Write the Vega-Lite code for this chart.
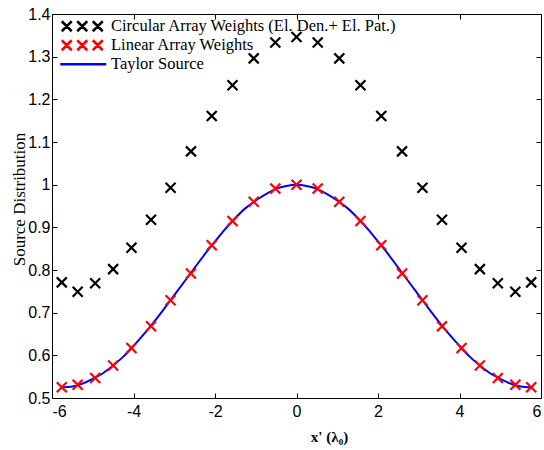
{
  "$schema": "https://vega.github.io/schema/vega-lite/v6.json",
  "width": 489,
  "height": 384,
  "autosize": "none",
  "padding": {"left": 52, "top": 14, "right": 3, "bottom": 52},
  "background": "white",
  "config": {
    "view": {"stroke": "black", "strokeWidth": 1},
    "axis": {
      "domain": false,
      "grid": false,
      "tickColor": "black",
      "tickSize": -5,
      "tickWidth": 1,
      "labelFont": "Liberation Sans",
      "labelFontSize": 16,
      "labelColor": "black",
      "titleFont": "Liberation Serif",
      "titleColor": "black"
    }
  },
  "datasets": {
    "pts": [
      {"series": "Circular Array Weights (El. Den.+ El. Pat.)", "x": -5.76, "y": 0.771},
      {"series": "Circular Array Weights (El. Den.+ El. Pat.)", "x": -5.37, "y": 0.749},
      {"series": "Circular Array Weights (El. Den.+ El. Pat.)", "x": -4.94, "y": 0.769},
      {"series": "Circular Array Weights (El. Den.+ El. Pat.)", "x": -4.5, "y": 0.802},
      {"series": "Circular Array Weights (El. Den.+ El. Pat.)", "x": -4.05, "y": 0.852},
      {"series": "Circular Array Weights (El. Den.+ El. Pat.)", "x": -3.57, "y": 0.918},
      {"series": "Circular Array Weights (El. Den.+ El. Pat.)", "x": -3.09, "y": 0.993},
      {"series": "Circular Array Weights (El. Den.+ El. Pat.)", "x": -2.59, "y": 1.078},
      {"series": "Circular Array Weights (El. Den.+ El. Pat.)", "x": -2.08, "y": 1.161},
      {"series": "Circular Array Weights (El. Den.+ El. Pat.)", "x": -1.57, "y": 1.233},
      {"series": "Circular Array Weights (El. Den.+ El. Pat.)", "x": -1.05, "y": 1.296},
      {"series": "Circular Array Weights (El. Den.+ El. Pat.)", "x": -0.52, "y": 1.333},
      {"series": "Circular Array Weights (El. Den.+ El. Pat.)", "x": 0, "y": 1.346},
      {"series": "Circular Array Weights (El. Den.+ El. Pat.)", "x": 0.52, "y": 1.333},
      {"series": "Circular Array Weights (El. Den.+ El. Pat.)", "x": 1.05, "y": 1.296},
      {"series": "Circular Array Weights (El. Den.+ El. Pat.)", "x": 1.57, "y": 1.233},
      {"series": "Circular Array Weights (El. Den.+ El. Pat.)", "x": 2.08, "y": 1.161},
      {"series": "Circular Array Weights (El. Den.+ El. Pat.)", "x": 2.59, "y": 1.078},
      {"series": "Circular Array Weights (El. Den.+ El. Pat.)", "x": 3.09, "y": 0.993},
      {"series": "Circular Array Weights (El. Den.+ El. Pat.)", "x": 3.57, "y": 0.918},
      {"series": "Circular Array Weights (El. Den.+ El. Pat.)", "x": 4.05, "y": 0.852},
      {"series": "Circular Array Weights (El. Den.+ El. Pat.)", "x": 4.5, "y": 0.802},
      {"series": "Circular Array Weights (El. Den.+ El. Pat.)", "x": 4.94, "y": 0.769},
      {"series": "Circular Array Weights (El. Den.+ El. Pat.)", "x": 5.37, "y": 0.749},
      {"series": "Circular Array Weights (El. Den.+ El. Pat.)", "x": 5.76, "y": 0.771},
      {"series": "Linear Array Weights", "x": -5.76, "y": 0.525},
      {"series": "Linear Array Weights", "x": -5.37, "y": 0.531},
      {"series": "Linear Array Weights", "x": -4.94, "y": 0.547},
      {"series": "Linear Array Weights", "x": -4.5, "y": 0.576},
      {"series": "Linear Array Weights", "x": -4.05, "y": 0.617},
      {"series": "Linear Array Weights", "x": -3.57, "y": 0.668},
      {"series": "Linear Array Weights", "x": -3.09, "y": 0.729},
      {"series": "Linear Array Weights", "x": -2.59, "y": 0.792},
      {"series": "Linear Array Weights", "x": -2.08, "y": 0.858},
      {"series": "Linear Array Weights", "x": -1.57, "y": 0.915},
      {"series": "Linear Array Weights", "x": -1.05, "y": 0.96},
      {"series": "Linear Array Weights", "x": -0.52, "y": 0.991},
      {"series": "Linear Array Weights", "x": 0, "y": 1.0},
      {"series": "Linear Array Weights", "x": 0.52, "y": 0.991},
      {"series": "Linear Array Weights", "x": 1.05, "y": 0.96},
      {"series": "Linear Array Weights", "x": 1.57, "y": 0.915},
      {"series": "Linear Array Weights", "x": 2.08, "y": 0.858},
      {"series": "Linear Array Weights", "x": 2.59, "y": 0.792},
      {"series": "Linear Array Weights", "x": 3.09, "y": 0.729},
      {"series": "Linear Array Weights", "x": 3.57, "y": 0.668},
      {"series": "Linear Array Weights", "x": 4.05, "y": 0.617},
      {"series": "Linear Array Weights", "x": 4.5, "y": 0.576},
      {"series": "Linear Array Weights", "x": 4.94, "y": 0.547},
      {"series": "Linear Array Weights", "x": 5.37, "y": 0.531},
      {"series": "Linear Array Weights", "x": 5.76, "y": 0.525}
    ],
    "taylor": [
      {"series": "Taylor Source", "x": -5.77, "y": 0.525},
      {"series": "Taylor Source", "x": -5.5, "y": 0.527},
      {"series": "Taylor Source", "x": -5.25, "y": 0.534},
      {"series": "Taylor Source", "x": -5.0, "y": 0.545},
      {"series": "Taylor Source", "x": -4.75, "y": 0.558},
      {"series": "Taylor Source", "x": -4.5, "y": 0.576},
      {"series": "Taylor Source", "x": -4.25, "y": 0.597},
      {"series": "Taylor Source", "x": -4.0, "y": 0.622},
      {"series": "Taylor Source", "x": -3.75, "y": 0.649},
      {"series": "Taylor Source", "x": -3.5, "y": 0.678},
      {"series": "Taylor Source", "x": -3.25, "y": 0.709},
      {"series": "Taylor Source", "x": -3.0, "y": 0.741},
      {"series": "Taylor Source", "x": -2.75, "y": 0.773},
      {"series": "Taylor Source", "x": -2.5, "y": 0.805},
      {"series": "Taylor Source", "x": -2.25, "y": 0.837},
      {"series": "Taylor Source", "x": -2.0, "y": 0.867},
      {"series": "Taylor Source", "x": -1.75, "y": 0.896},
      {"series": "Taylor Source", "x": -1.5, "y": 0.922},
      {"series": "Taylor Source", "x": -1.25, "y": 0.945},
      {"series": "Taylor Source", "x": -1.0, "y": 0.963},
      {"series": "Taylor Source", "x": -0.75, "y": 0.978},
      {"series": "Taylor Source", "x": -0.5, "y": 0.99},
      {"series": "Taylor Source", "x": -0.25, "y": 0.997},
      {"series": "Taylor Source", "x": 0, "y": 1.0},
      {"series": "Taylor Source", "x": 0.25, "y": 0.997},
      {"series": "Taylor Source", "x": 0.5, "y": 0.99},
      {"series": "Taylor Source", "x": 0.75, "y": 0.978},
      {"series": "Taylor Source", "x": 1.0, "y": 0.963},
      {"series": "Taylor Source", "x": 1.25, "y": 0.945},
      {"series": "Taylor Source", "x": 1.5, "y": 0.922},
      {"series": "Taylor Source", "x": 1.75, "y": 0.896},
      {"series": "Taylor Source", "x": 2.0, "y": 0.867},
      {"series": "Taylor Source", "x": 2.25, "y": 0.837},
      {"series": "Taylor Source", "x": 2.5, "y": 0.805},
      {"series": "Taylor Source", "x": 2.75, "y": 0.773},
      {"series": "Taylor Source", "x": 3.0, "y": 0.741},
      {"series": "Taylor Source", "x": 3.25, "y": 0.709},
      {"series": "Taylor Source", "x": 3.5, "y": 0.678},
      {"series": "Taylor Source", "x": 3.75, "y": 0.649},
      {"series": "Taylor Source", "x": 4.0, "y": 0.622},
      {"series": "Taylor Source", "x": 4.25, "y": 0.597},
      {"series": "Taylor Source", "x": 4.5, "y": 0.576},
      {"series": "Taylor Source", "x": 4.75, "y": 0.558},
      {"series": "Taylor Source", "x": 5.0, "y": 0.545},
      {"series": "Taylor Source", "x": 5.25, "y": 0.534},
      {"series": "Taylor Source", "x": 5.5, "y": 0.527},
      {"series": "Taylor Source", "x": 5.77, "y": 0.525}
    ]
  },
  "resolve": {"axis": {"x": "independent", "y": "independent"}},
  "layer": [
    {
      "data": {"name": "taylor"},
      "mark": {"type": "line", "strokeWidth": 2, "interpolate": "monotone"},
      "encoding": {
        "x": {
          "field": "x", "type": "quantitative",
          "scale": {"domain": [-6, 6], "nice": false, "zero": false},
          "axis": {
            "orient": "bottom",
            "values": [-6, -4, -2, 0, 2, 4, 6],
            "labelExpr": "'' + datum.value",
            "labelPadding": 10,
            "title": "x' (λ₀)",
            "titleFont": "Liberation Serif",
            "titleFontSize": 15,
            "titleFontWeight": "bold",
            "titleX": 277,
            "titleY": 43,
            "titleBaseline": "alphabetic"
          }
        },
        "y": {
          "field": "y", "type": "quantitative",
          "scale": {"domain": [0.5, 1.4], "nice": false, "zero": false},
          "axis": {
            "orient": "left",
            "values": [0.5, 0.6, 0.7, 0.8, 0.9, 1.0, 1.1, 1.2, 1.3, 1.4],
            "format": ".2~f",
            "labelPadding": 7,
            "title": "Source Distribution",
            "titleFont": "Liberation Serif",
            "titleFontSize": 17,
            "titleFontWeight": "normal",
            "titleX": -33,
            "titleY": 185,
            "titleAngle": -90,
            "titleAlign": "center",
            "titleBaseline": "middle"
          }
        },
        "color": {
          "field": "series", "type": "nominal",
          "scale": {
            "domain": ["Circular Array Weights (El. Den.+ El. Pat.)", "Linear Array Weights", "Taylor Source"],
            "range": ["black", "#ff0000", "#0000ff"]
          },
          "legend": {
            "orient": "none",
            "legendX": 6.5,
            "legendY": 4,
            "title": null,
            "padding": 0,
            "labelFont": "Liberation Serif",
            "labelFontSize": 16.5,
            "labelColor": "black",
            "labelLimit": 0,
            "symbolSize": 100,
            "labelOffset": 36,
            "rowPadding": -2.8,
            "symbolStrokeWidth": 2.5,
            "encode": {
              "symbols": {
                "update": {
                  "shape": {"signal": "datum.value === 'Taylor Source' ? 'M-1.3,0L7.9,0' : 'M-1,-1L1,1M-1,1L1,-1M2.1,-1L4.1,1M2.1,1L4.1,-1M5.2,-1L7.2,1M5.2,1L7.2,-1'"},
                  "fill": {"value": "transparent"},
                  "strokeWidth": {"value": 2.5}
                }
              }
            }
          }
        }
      }
    },
    {
      "data": {"name": "pts"},
      "mark": {"type": "point", "shape": "M-1,-1L1,1M-1,1L1,-1", "filled": false, "size": 100, "strokeWidth": 2.2, "opacity": 1},
      "encoding": {
        "x": {"field": "x", "type": "quantitative", "axis": {"orient": "top", "values": [-6, -4, -2, 0, 2, 4, 6], "labels": false, "title": null}},
        "y": {"field": "y", "type": "quantitative", "axis": {"orient": "right", "values": [0.5, 0.6, 0.7, 0.8, 0.9, 1.0, 1.1, 1.2, 1.3, 1.4], "labels": false, "title": null}},
        "color": {"field": "series", "type": "nominal"}
      }
    }
  ]
}
